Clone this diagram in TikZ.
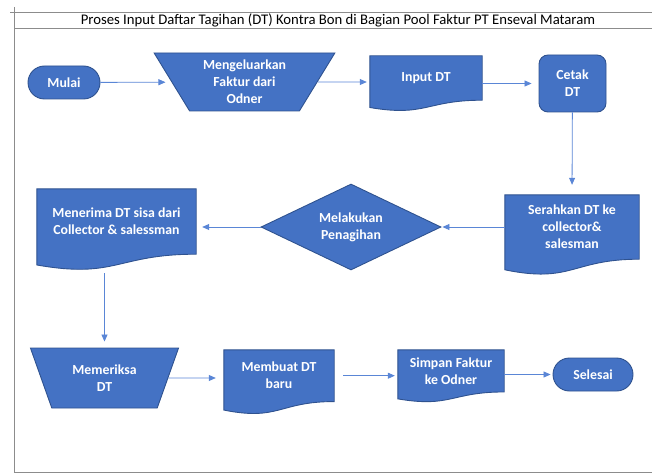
\documentclass[tikz,border=0pt]{standalone}
\usepackage{fontspec}
\setmainfont{Carlito}
\usetikzlibrary{shapes.geometric,arrows.meta,calc,backgrounds}
\definecolor{boxblue}{HTML}{4472C4}
\definecolor{boxline}{HTML}{2F528F}
\definecolor{flowblue}{HTML}{5A86D6}
\newcommand{\docwave}[1]{%
  \begin{scope}[on background layer]
  \path[box] let \p1=(#1.north west),\p2=(#1.south east),\n1={\x2-\x1},\n2={(\y1-\y2)/0.802} in
    (\p1)--(\x2,\y1)--(\p2) .. controls (\x1+0.5*\n1,\y2) and (\x1+0.5*\n1,\y1-1.107*\n2) .. (\x1,\y1-0.934*\n2)--cycle;
  \end{scope}}
\begin{document}
\begin{tikzpicture}[x=1pt,y=-1pt,
    box/.style={fill=boxblue,draw=boxline,line width=0.9pt},
    txt/.style={text=white,font=\fontsize{13.8}{17}\selectfont\bfseries,align=center,inner sep=0pt},
    term/.style={box,txt,rectangle,rounded corners=16.5pt,minimum height=33pt},
    trap/.style={box,txt,trapezium,shape border rotate=180,trapezium stretches=true},
    doc/.style={txt,rectangle},
    flow/.style={draw=flowblue,line width=0.8pt,-{Triangle[length=7pt,width=6pt]}},
    frame/.style={draw=black!45,line width=0.8pt}]
    \useasboundingbox (0,0) rectangle (652,473);
    \draw[frame] (10,12)--(652,12) (14,7)--(14,472)--(652,472) (14,28.7)--(652,28.7);
    \node[font=\fontsize{14.7}{17}\selectfont,inner sep=0pt] (judul) at (338,20.5) {Proses Input Daftar Tagihan (DT) Kontra Bon di Bagian Pool Faktur PT Enseval Mataram};
    % baris atas
    \node[term,minimum width=72pt] (mulai) at (64,82.5) {Mulai};
    \node[trap,trapezium left angle=58.5,trapezium right angle=58.5,minimum width=181pt,minimum height=58pt] (keluar) at (244.5,82) {Mengeluarkan\\Faktur dari\\Odner};
    \node[doc,minimum width=112pt,minimum height=44pt] (inp) at (426,78) {Input DT};
    \node[box,txt,rectangle,rounded corners=9pt,minimum width=67pt,minimum height=57pt] (cetak) at (572.5,83.5) {Cetak\\DT};
    % baris tengah
    \node[doc,minimum width=134pt,minimum height=64pt] (serah) at (572,227) {Serahkan DT ke\\collector\&\\salesman};
    \node[box,txt,diamond,aspect=2,minimum width=180pt,minimum height=86pt] (tagih) at (351,227) {Melakukan\\Penagihan};
    \node[doc,minimum width=159pt,minimum height=65pt] (terima) at (116.5,221.5) {Menerima DT sisa dari\\Collector \& salessman};
    % baris bawah
    \node[trap,trapezium left angle=64,trapezium right angle=64,minimum width=149pt,minimum height=60pt] (periksa) at (104.5,378) {Memeriksa\\DT};
    \node[doc,minimum width=110pt,minimum height=51.3pt] (buat) at (279,375.7) {Membuat DT\\baru};
    \node[doc,minimum width=106pt,minimum height=41.7pt] (simpan) at (451,370.9) {Simpan Faktur\\ke Odner};
    \node[term,minimum width=80pt] (selesai) at (593,374.5) {Selesai};
    \docwave{inp}\docwave{serah}\docwave{terima}\docwave{buat}\docwave{simpan}
    % panah
    \draw[flow,shorten >=6pt] (mulai)--(keluar);
    \draw[flow,shorten >=3pt] (keluar)--(keluar-|inp.west);
    \draw[flow,shorten >=7pt] (inp.east|-cetak)--(cetak);
    \draw[flow,shorten >=10pt] (cetak)--(serah.north);
    \draw[flow,shorten >=1pt] (serah)--(tagih);
    \draw[flow,shorten >=6pt] (tagih)--(tagih-|terima.east);
    \draw[flow,shorten <=19pt,shorten >=6pt] (terima.south-|periksa.north)--(periksa.north);
    \draw[flow,shorten >=8pt] (periksa)--(periksa-|buat.west);
    \draw[flow,shorten <=9pt,shorten >=3pt] (buat.east)--(buat.east-|simpan.west);
    \draw[flow,shorten >=2pt] (simpan.east|-selesai)--(selesai);
\end{tikzpicture}
\end{document}
